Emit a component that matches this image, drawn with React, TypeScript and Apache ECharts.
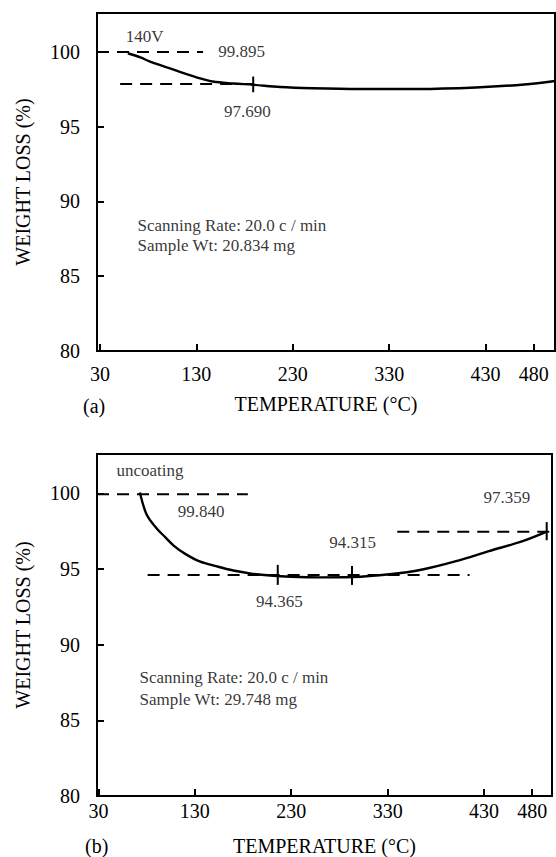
import React, { useEffect, useRef } from "react";
import * as echarts from "echarts";

const FONT = '"Liberation Serif", "Times New Roman", serif';

const xTicks = [30, 130, 230, 330, 430, 480];
const yTicks = [80, 85, 90, 95, 100];

// (a) TGA curve
const tempA = [59, 72, 82, 97, 113, 134, 147, 168, 189, 217, 250, 300, 360, 420, 470, 502];
const weightA = [99.91, 99.63, 99.35, 99.02, 98.67, 98.23, 98.02, 97.89, 97.8, 97.65, 97.57, 97.52, 97.52, 97.62, 97.82, 98.05];

// (b) TGA curve
const tempB = [73, 80, 90, 99, 108, 120, 135, 153, 170, 187, 208, 230, 260, 293, 332, 366, 401, 435, 470, 495];
const weightB = [100.05, 98.6, 97.71, 97.12, 96.55, 96.0, 95.5, 95.17, 94.9, 94.71, 94.57, 94.49, 94.45, 94.47, 94.65, 94.97, 95.52, 96.18, 96.84, 97.47];

// dashed reference lines [[t0, w0], [t1, w1]]
const dashA = [
  [[27, 99.99], [137, 99.99]],
  [[51, 97.85], [189, 97.85]],
];
const dashB = [
  [[28.5, 99.94], [185, 99.94]],
  [[81, 94.61], [415, 94.61]],
  [[340, 97.47], [501, 97.47]],
];
// short vertical marks
const crossA = [[[189, 97.3], [189, 98.35]]];
const crossB = [
  [[216, 93.95], [216, 95.27]],
  [[293, 93.95], [293, 95.2]],
  [[495, 96.9], [495, 98.1]],
];

// annotation texts: [text, t, w, align]
const notesA: [string, number, number, string][] = [
  ["140V", 76.8, 101.0, "center"],
  ["99.895", 177.4, 99.99, "center"],
  ["97.690", 183.6, 95.98, "center"],
  ["Scanning Rate: 20.0 c / min", 69.5, 88.35, "left"],
  ["Sample Wt: 20.834 mg", 69.5, 87.05, "left"],
];
const notesB: [string, number, number, string][] = [
  ["uncoating", 49.2, 101.48, "left"],
  ["99.840", 137.1, 98.74, "center"],
  ["97.359", 454.3, 99.66, "center"],
  ["94.315", 294.1, 96.69, "center"],
  ["94.365", 218.3, 92.82, "center"],
  ["Scanning Rate: 20.0 c / min", 73.1, 87.77, "left"],
  ["Sample Wt: 29.748 mg", 73.1, 86.35, "left"],
];

function buildSeries(idx: number, temps: number[], weights: number[], dashes: number[][][], crosses: number[][][], notes: [string, number, number, string][]) {
  const s: any[] = [];
  s.push({
    type: "line",
    xAxisIndex: idx,
    yAxisIndex: idx,
    data: temps.map((t, i) => [t, weights[i]]),
    smooth: 0.35,
    symbol: "none",
    lineStyle: { color: "#000", width: 2.4 },
    silent: true,
  });
  dashes.forEach((d) => {
    s.push({
      type: "line",
      xAxisIndex: idx,
      yAxisIndex: idx,
      data: d,
      symbol: "none",
      lineStyle: { color: "#000", width: 2, type: [12, 8] },
      silent: true,
    });
  });
  crosses.forEach((d) => {
    s.push({
      type: "line",
      xAxisIndex: idx,
      yAxisIndex: idx,
      data: d,
      symbol: "none",
      lineStyle: { color: "#000", width: 2 },
      silent: true,
    });
  });
  notes.forEach(([text, t, w, align]) => {
    s.push({
      type: "scatter",
      xAxisIndex: idx,
      yAxisIndex: idx,
      data: [[t, w]],
      symbolSize: 1,
      itemStyle: { color: "rgba(0,0,0,0)" },
      silent: true,
      label: {
        show: true,
        formatter: text,
        position: [0, 0],
        align,
        verticalAlign: "middle",
        color: "#000",
        fontSize: 17,
        fontFamily: FONT,
      },
    });
  });
  return s;
}

function xAxisCfg(idx: number, min: number, max: number, margin: number, nameGap: number) {
  return {
    type: "value",
    gridIndex: idx,
    min,
    max,
    name: "TEMPERATURE (°C)",
    nameLocation: "middle",
    nameGap,
    nameTextStyle: { color: "#000", fontSize: 20, fontFamily: FONT },
    axisLine: { show: true, lineStyle: { color: "#000", width: 2 } },
    axisTick: { show: true, inside: true, length: 7, customValues: xTicks, lineStyle: { color: "#000", width: 2 } },
    axisLabel: { show: true, customValues: xTicks, margin, color: "#000", fontSize: 20, fontFamily: FONT },
    splitLine: { show: false },
  };
}

function yAxisCfg(idx: number) {
  return {
    type: "value",
    gridIndex: idx,
    min: 80,
    max: 102.6,
    name: "WEIGHT LOSS (%)",
    nameLocation: "middle",
    nameGap: 64,
    nameRotate: 90,
    nameTextStyle: { color: "#000", fontSize: 20, fontFamily: FONT },
    axisLine: { show: true, lineStyle: { color: "#000", width: 2 } },
    axisTick: { show: true, inside: true, length: 7, customValues: yTicks, lineStyle: { color: "#000", width: 2 } },
    axisLabel: { show: true, customValues: yTicks, margin: 17, color: "#000", fontSize: 20, fontFamily: FONT },
    splitLine: { show: false },
  };
}

export default function App() {
  const ref = useRef<HTMLDivElement>(null);
  useEffect(() => {
    document.body.style.margin = "0";
    const chart = echarts.init(ref.current!, null, { renderer: "svg" });
    chart.setOption({
      animation: false,
      backgroundColor: "#fff",
      grid: [
        { left: 97, top: 13, width: 458, height: 338, show: true, borderColor: "#000", borderWidth: 2, backgroundColor: "transparent" },
        { left: 97, top: 454, width: 455, height: 342, show: true, borderColor: "#000", borderWidth: 2, backgroundColor: "transparent" },
      ],
      xAxis: [xAxisCfg(0, 27, 502, 13, 43), xAxisCfg(1, 28.5, 500.5, 5, 40)],
      yAxis: [yAxisCfg(0), yAxisCfg(1)],
      graphic: [
        { type: "text", left: 83, top: 396, style: { text: "(a)", fontSize: 20, fontFamily: FONT, fill: "#000" } },
        { type: "text", left: 85, top: 836, style: { text: "(b)", fontSize: 20, fontFamily: FONT, fill: "#000" } },
      ],
      series: [
        ...buildSeries(0, tempA, weightA, dashA, crossA, notesA),
        ...buildSeries(1, tempB, weightB, dashB, crossB, notesB),
      ],
    });
    return () => chart.dispose();
  }, []);
  return <div ref={ref} style={{ width: 556, height: 857 }} />;
}
